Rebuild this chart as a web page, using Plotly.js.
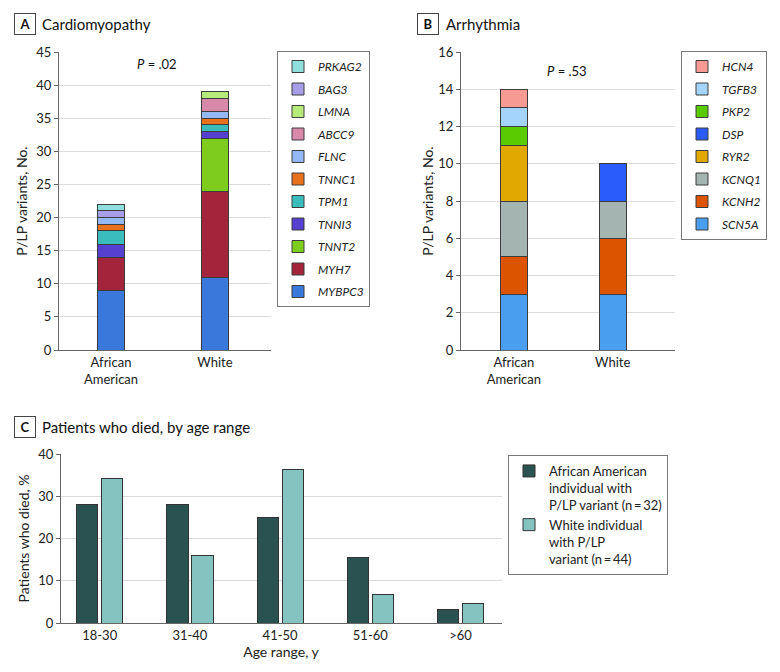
<!DOCTYPE html>
<html>
<head>
<meta charset="utf-8">
<script src="https://cdn.plot.ly/plotly-3.0.1.min.js"></script>
<style>html,body{margin:0;padding:0;background:#fff;}#chart{width:780px;height:672px;}</style>
</head>
<body>
<div id="chart"></div>
<script>
// ---------- Data ----------
const groupCats = ['African<br>American', 'White'];

// Panel A: Cardiomyopathy (bottom to top of stack)
const genesA = ['MYBPC3', 'MYH7', 'TNNT2', 'TNNI3', 'TPM1', 'TNNC1', 'FLNC', 'ABCC9', 'LMNA', 'BAG3', 'PRKAG2'];
const aaA = [9, 5, 0, 2, 2, 1, 1, 0, 0, 1, 1];
const whA = [11, 13, 8, 1, 1, 1, 1, 2, 1, 0, 0];
const colorsA = ['#3b78dc', '#a4243c', '#7dcc1e', '#5540d0', '#3bbcbc', '#e8711e', '#94b8f4', '#d888a8', '#b6ea7a', '#a89ee8', '#8fe0dc'];

// Panel B: Arrhythmia (bottom to top of stack)
const genesB = ['SCN5A', 'KCNH2', 'KCNQ1', 'RYR2', 'DSP', 'PKP2', 'TGFB3', 'HCN4'];
const aaB = [3, 2, 3, 3, 0, 1, 1, 1];
const whB = [3, 3, 2, 0, 2, 0, 0, 0];
const colorsB = ['#4a9ef0', '#dc5400', '#a4b4b0', '#e0a800', '#2a5cfc', '#58cc00', '#a4d4fc', '#f79a94'];

// Panel C: Patients who died, by age range (%)
const ageCats = ['18-30', '31-40', '41-50', '51-60', '>60'];
const aaC = [28.1, 28.1, 25.0, 15.6, 3.1];
const whC = [34.1, 15.9, 36.4, 6.8, 4.5];
const seriesC = ['African American<br>individual with<br>P/LP variant (n\u2009=\u200932)', 'White individual<br>with P/LP<br>variant (n\u2009=\u200944)'];
const colorsC = ['#2a5250', '#84c3c0'];

// ---------- Build ----------
const FONT = 'Lato, "Noto Sans", sans-serif';
const nz = v => (v === 0 ? null : v);
const W = 780, H = 672;
const px = x => x / W, py = y => 1 - y / H;

const traces = [];
genesA.forEach((g, i) => {
  traces.push({
    type: 'bar', x: groupCats, y: [nz(aaA[i]), nz(whA[i])], name: '<i>' + g + '</i>',
    xaxis: 'x', yaxis: 'y', width: 0.26, legend: 'legend', legendgroup: 'A' + g,
    legendrank: 100 - i,
    marker: {color: colorsA[i], line: {color: '#3c3c3c', width: 1}}, hoverinfo: 'name+y'
  });
});
genesB.forEach((g, i) => {
  traces.push({
    type: 'bar', x: groupCats, y: [nz(aaB[i]), nz(whB[i])], name: '<i>' + g + '</i>',
    xaxis: 'x2', yaxis: 'y2', width: 0.27, legend: 'legend2', legendgroup: 'B' + g,
    legendrank: 100 - i,
    marker: {color: colorsB[i], line: {color: '#3c3c3c', width: 1}}, hoverinfo: 'name+y'
  });
});
traces.push({
  type: 'bar', x: ageCats, y: aaC, name: seriesC[0], xaxis: 'x3', yaxis: 'y3',
  width: 0.235, offset: -0.255, legend: 'legend3',
  marker: {color: colorsC[0], line: {color: '#333', width: 1}}
});
traces.push({
  type: 'bar', x: ageCats, y: whC, name: seriesC[1], xaxis: 'x4', yaxis: 'y3',
  width: 0.235, offset: 0.022, legend: 'legend3',
  marker: {color: colorsC[1], line: {color: '#333', width: 1}}
});

const yAx = (range, dtick, top, bottom, title, standoff) => ({
  range: range, dtick: dtick, domain: [py(bottom), py(top)], anchor: 'free',
  showline: true, linecolor: '#666', linewidth: 1, ticks: 'outside', ticklen: 4, tickcolor: '#666',
  showgrid: true, gridcolor: '#dcdcdc', gridwidth: 1, zeroline: false,
  tickfont: {family: FONT, size: 13, color: '#222'},
  title: {text: title, font: {family: FONT, size: 14, color: '#222'}, standoff: standoff}
});
const xAx = (l, r, range) => ({
  domain: [px(l), px(r)], range: range, type: 'category', showline: true, linecolor: '#666',
  linewidth: 1, ticks: '', showgrid: false, zeroline: false,
  tickfont: {family: FONT, size: 13, color: '#222'}
});

const legendBase = {
  xanchor: 'left', yanchor: 'top', bordercolor: '#777', borderwidth: 1, bgcolor: '#fff',
  font: {family: FONT, size: 12, color: '#222'}, tracegroupgap: 3.5, itemwidth: 30
};

const ya = yAx([0, 45], 5, 52, 350, 'P/LP variants, No.', 4);
ya.position = px(58);
const yb = yAx([0, 16], 2, 52, 350, 'P/LP variants, No.', 0);
yb.position = px(460);
const yc = yAx([0, 40], 10, 454, 623, 'Patients who died, %', 4);
yc.position = px(60);

const xa = xAx(58, 271, [-0.51, 1.54]); xa.anchor = 'y';
const xb = xAx(460, 675, [-0.545, 1.63]); xb.anchor = 'y2';
const xc = xAx(60, 502, [-0.44, 4.46]); xc.anchor = 'y3';
xc.title = {text: 'Age range, y', font: {family: FONT, size: 14, color: '#222'}, standoff: 1};
const xd = {overlaying: 'x3', matches: 'x3', anchor: 'y3', type: 'category', visible: false, domain: [px(60), px(502)]};

const ann = [];
const panelLabel = (letter, title, bx, tx, y) => {
  ann.push({text: '<b>' + letter + '</b>', x: px(bx), y: py(y), xref: 'paper', yref: 'paper',
    xanchor: 'center', yanchor: 'middle', width: 14, height: 14,
    showarrow: false, bordercolor: '#444', borderwidth: 1, borderpad: 3,
    font: {family: FONT, size: 13, color: '#111'}});
  ann.push({text: title, x: px(tx), y: py(y), xref: 'paper', yref: 'paper', xanchor: 'left', yanchor: 'middle',
    showarrow: false, font: {family: FONT, size: 15, color: '#111'}});
};
panelLabel('A', 'Cardiomyopathy', 24.5, 40, 24);
panelLabel('B', 'Arrhythmia', 428, 444, 24);
panelLabel('C', 'Patients who died, by age range', 24.5, 40, 427);
ann.push({text: '<i>P</i> = .02', x: px(157), y: py(64), xref: 'paper', yref: 'paper', showarrow: false,
  xanchor: 'center', yanchor: 'middle', font: {family: FONT, size: 13, color: '#111'}});
ann.push({text: '<i>P</i> = .53', x: px(567), y: py(71), xref: 'paper', yref: 'paper', showarrow: false,
  xanchor: 'center', yanchor: 'middle', font: {family: FONT, size: 13, color: '#111'}});

const layout = {
  width: W, height: H, margin: {l: 0, r: 0, t: 0, b: 0}, paper_bgcolor: '#fff', plot_bgcolor: '#fff',
  barmode: 'stack', showlegend: true,
  font: {family: FONT, color: '#222'},
  xaxis: xa, yaxis: ya, xaxis2: xb, yaxis2: yb, xaxis3: xc, yaxis3: yc, xaxis4: xd,
  legend: Object.assign({}, legendBase, {x: px(277), y: py(51), traceorder: 'grouped'}),
  legend2: Object.assign({}, legendBase, {x: px(681), y: py(51), traceorder: 'grouped'}),
  legend3: Object.assign({}, legendBase, {x: px(508), y: py(455), traceorder: 'normal', valign: 'top',
    tracegroupgap: 6, font: {family: FONT, size: 13, color: '#222'}}),
  annotations: ann
};

Plotly.newPlot('chart', traces, layout, {displayModeBar: false, staticPlot: true});
</script>
</body>
</html>
